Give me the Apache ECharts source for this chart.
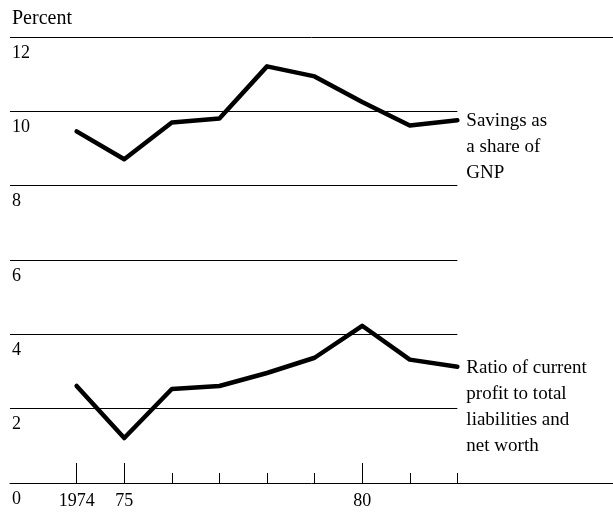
<!DOCTYPE html>
<html>
<head>
<meta charset="utf-8">
<title>Savings and profit ratio</title>
<script src="https://cdn.jsdelivr.net/npm/echarts@6/dist/echarts.min.js"></script>
<style>
  html, body { margin: 0; padding: 0; background: #fff; }
  #chart { width: 613px; height: 514px; }
</style>
</head>
<body>
<div id="chart"></div>
<script>
// data
var years = [1974, 1975, 1976, 1977, 1978, 1979, 1980, 1981, 1982];
var savings = [9.46, 8.71, 9.70, 9.81, 11.21, 10.94, 10.25, 9.62, 9.76];
var profitRatio = [2.61, 1.21, 2.53, 2.61, 2.96, 3.37, 4.23, 3.32, 3.13];
var labeledYears = [1974, 1975, 1980];
var yTicks = [0, 2, 4, 6, 8, 10, 12];
var shortRules = [2, 4, 6, 8, 10];

var font = "'Liberation Serif', 'Times New Roman', serif";
var xMin = 1972.6, xMax = 1985.27;

function pairs(vals) {
    var out = [];
    for (var i = 0; i < years.length; i++) {
        out.push([years[i], vals[i]]);
    }
    return out;
}

// horizontal rules: top one spans the whole width, the rest stop at the last year
var rules = [[{ coord: [xMin, 12] }, { coord: [xMax, 12] }]];
shortRules.forEach(function (v) {
    rules.push([{ coord: [xMin, v] }, { coord: [years[years.length - 1], v] }]);
});

var myChart = echarts.init(document.getElementById('chart'));

var lineStyle = { color: '#000', width: 4.5, cap: 'round', join: 'round' };
var endLabel = {
    show: true,
    color: '#000',
    fontFamily: font,
    fontSize: 19,
    lineHeight: 26,
    align: 'left',
    verticalAlign: 'top',
    distance: 9,
    offset: [0, -12]
};

var option = {
    animation: false,
    backgroundColor: '#fff',
    title: {
        text: 'Percent',
        left: 12,
        top: 9,
        padding: 0,
        textStyle: { fontFamily: font, fontSize: 20, fontWeight: 'normal', color: '#000' }
    },
    grid: { left: 10, right: 0, top: 37, bottom: 31 },
    xAxis: [{
        type: 'value',
        min: xMin,
        max: xMax,
        axisLine: { show: true, lineStyle: { color: '#000', width: 1 } },
        axisTick: {
            show: true, inside: true, length: 10,
            customValues: years,
            lineStyle: { color: '#000', width: 1 }
        },
        axisLabel: {
            show: true,
            customValues: labeledYears,
            margin: 9,
            color: '#000',
            fontFamily: font,
            fontSize: 18,
            formatter: function (v) {
                return v === 1974 ? '1974' : String(v).slice(2);
            }
        },
        splitLine: { show: false }
    }, {
        type: 'value',
        position: 'bottom',
        min: xMin,
        max: xMax,
        axisLine: { show: false },
        axisTick: {
            show: true, inside: true, length: 20,
            customValues: labeledYears,
            lineStyle: { color: '#000', width: 1 }
        },
        axisLabel: { show: false },
        splitLine: { show: false }
    }],
    yAxis: {
        type: 'value',
        min: 0,
        max: 12,
        interval: 2,
        axisLine: { show: false },
        axisTick: { show: false },
        splitLine: { show: false },
        axisLabel: {
            inside: true,
            margin: 2,
            align: 'left',
            verticalAlign: 'top',
            padding: [7, 0, 0, 0],
            color: '#000',
            fontFamily: font,
            fontSize: 18
        }
    },
    series: [{
        type: 'line',
        name: 'Savings',
        data: pairs(savings),
        symbol: 'none',
        lineStyle: lineStyle,
        endLabel: Object.assign({}, endLabel, {
            formatter: 'Savings as\na share of\nGNP'
        }),
        markLine: {
            silent: true,
            symbol: 'none',
            label: { show: false },
            lineStyle: { color: '#000', width: 1, type: 'solid' },
            data: rules
        },
        z: 3
    }, {
        type: 'line',
        name: 'Profit ratio',
        data: pairs(profitRatio),
        symbol: 'none',
        lineStyle: lineStyle,
        endLabel: Object.assign({}, endLabel, {
            formatter: 'Ratio of current\nprofit to total\nliabilities and\nnet worth'
        }),
        z: 3
    }]
};

option && myChart.setOption(option);
</script>
</body>
</html>
